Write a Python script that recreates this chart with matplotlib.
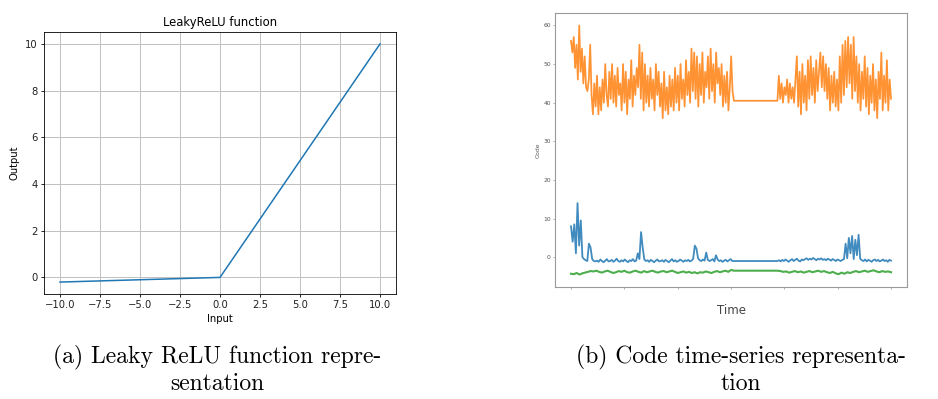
import numpy as np
import matplotlib
matplotlib.use("Agg")
import matplotlib.pyplot as plt


# Leaky ReLU curve (slope 0.02 below zero)
relu_input = [-10.0, 0.0, 10.0]
relu_output = [-0.2, 0.0, 10.0]

# Code time series: two recorded segments with a gap in between
seg1_span = (0, 509)
seg2_span = (645, 1000)

code_orange_seg1 = [
    56, 53, 57, 49, 55, 46, 60, 48, 54, 45, 52, 44,
    43, 46, 55, 42,
    37, 45, 39, 47, 37, 44, 38, 46, 40,
    50, 42,
    39, 48, 41, 50, 40, 47, 39, 49, 42, 45,
    38, 50, 40, 48, 37, 46, 41, 51, 39, 47, 42, 49,
    44, 55, 41, 53,
    38, 50, 40, 47, 39, 49, 41, 46, 38, 50, 42, 48, 39,
    45, 36, 48, 38, 44, 37, 47, 39, 46, 38,
    49, 40, 47, 38, 50, 41, 46, 39, 51, 42, 48, 40,
    54, 43, 53, 41, 52,
    39, 50, 42, 53, 40, 48, 44,
    52, 41, 54, 43, 50, 40, 53, 45, 49, 42,
    50, 39, 47, 40, 48, 38, 44,
    52, 43, 40.5,
]
code_orange_seg2 = [
    40.5, 47, 41, 45, 40, 44, 42,
    46, 40, 45, 41, 44, 40, 46,
    52, 39, 48, 37, 50, 40, 47, 38, 51, 41,
    52, 42, 49, 40, 51, 43, 48,
    53, 44, 52, 43, 50,
    41, 49, 38, 47, 40, 48, 39,
    46, 38, 52, 40, 55, 42, 56, 44, 57, 45,
    55, 41, 57, 43, 52,
    40, 50, 38, 48, 41, 52, 39,
    49, 37, 47, 40, 50, 38, 46,
    36, 48, 41, 53, 38,
    47, 40, 51, 38, 46, 41,
]

code_blue_seg1 = [
    8, 4, 8.5, 1, 14, 3, 9.5, 0, -0.5,
    -0.8, -1, 3.5, 2.5, -0.5, -1,
    -1.1, -0.9, -1.2, -0.6, -1.0, -1.3, -0.9, -0.5, -1.1, -1.0, -0.7, -1.2, -0.9,
    -0.4, -1.0, -1.2, -0.8, -1.1, -0.6, -1.0, -1.3, -0.8, -1.0, -0.5, -1.1, -0.9, 1.0,
    -0.5, 6.5, 2.5, -0.6,
    -1.0, -0.8, -1.2, -0.7, -1.0, -1.3, -0.9, -0.6, -1.1, -1.0, -0.8, -1.2, -0.7, -1.0, -1.3,
    -0.9, -0.5, -1.1, -0.8, -1.2, -1.0, -0.6, -0.9, -1.2, -0.8, -1.0, -0.7, -1.1, -0.9, -0.4,
    3.0, 2.2, -0.3, -0.8,
    -1.0, -0.6, -0.9, 1.2, -0.7, -1.0, -0.8, -0.5, -1.1, 0.5, -0.6, -1.0, -0.8, -1.2, -0.9,
    -0.7, -1.1, -0.8, -0.5, -1.0, -1.0,
]
code_blue_seg2 = [
    -1.0, -0.8, -1.1, -0.7, -1.0, -0.6, -0.9, -1.2, -0.8, -0.5, -1.0, -0.7, -0.4, -0.9,
    -1.1, -0.6, -0.8, -0.5, -0.3, -0.7, -0.4, -0.6, -0.2, -0.5, -0.8, -0.4, -0.6, -0.3,
    -0.7, -0.5, -0.8, -0.4, -0.6, -0.9, -0.5, -0.7, -1.0, -0.6, -0.8, -1.0, -0.7, -0.5,
    3.5, -0.3, 5.0, 1.0, 5.5, -0.5, 4.5, 0.5, 5.8, -0.4,
    -0.8, -1.0, -0.6, -1.1, -0.7, -0.9, -1.2, -0.8, -0.6, -1.0, -0.7, -1.1, -0.9, -0.6,
    -1.0, -0.8, -1.2, -0.7, -0.9,
]

code_green_seg1 = [
    -4.3, -4.4, -4.1, -4.5, -4.2, -4.0, -3.8, -3.6, -3.7, -3.5, -3.8, -4.0, -3.7, -3.5,
    -3.8, -4.1, -3.9, -3.6, -3.8, -3.5, -3.9, -4.0, -3.7, -3.5, -3.8, -4.0, -3.6, -3.9,
    -3.7, -3.5, -3.8, -4.0, -3.7, -3.6, -3.9, -3.7, -3.5, -3.8, -4.1, -3.9, -3.7, -4.0,
    -3.8, -4.1, -3.9, -4.2, -3.9, -4.0, -3.7, -3.9, -4.1, -3.8, -3.6, -3.9, -3.7, -3.5,
    -3.8, -3.3, -3.5,
]
code_green_seg2 = [
    -3.5, -3.6, -3.8, -3.7, -4.0, -3.8, -3.6, -3.9, -3.7, -4.0, -3.8, -3.6, -3.9, -3.7,
    -3.5, -3.8, -3.6, -3.9, -4.1, -3.8, -4.2, -4.4, -4.0, -4.3, -3.9, -4.1, -3.8, -3.6,
    -3.9, -3.7, -3.5, -3.8, -3.6, -3.4, -3.7, -3.9, -3.6, -3.8, -3.7, -3.9,
]

time_ticks = np.linspace(seg1_span[0], seg2_span[1], 7)


def series(seg1, seg2):
    t = np.concatenate([
        np.linspace(*seg1_span, len(seg1)),
        np.linspace(*seg2_span, len(seg2)),
    ])
    return t, np.array(seg1 + seg2, dtype=float)


fig = plt.figure(figsize=(9.38, 3.99), dpi=100)

# (a) Leaky ReLU
ax1 = fig.add_axes([0.0469, 0.2632, 0.3753, 0.6566])
ax1.plot(relu_input, relu_output, color="tab:blue", lw=1.1)
ax1.set_title("LeakyReLU function", fontsize=8.4, pad=4)
ax1.set_xlabel("Input", fontsize=7.2, labelpad=2.5)
ax1.set_ylabel("Output", fontsize=7.2, labelpad=4)
ax1.tick_params(labelsize=7.2, length=2.5, width=0.6, pad=2, labelcolor="#222222")
ax1.grid(True, color="#c0c0c0", lw=0.7)
for s in ax1.spines.values():
    s.set_linewidth(0.6)

# (b) Code time series
ax2 = fig.add_axes([0.5917, 0.2807, 0.3753, 0.6867])
for seg1, seg2, col, lw in [
    (code_orange_seg1, code_orange_seg2, "#ff7f0e", 1.25),
    (code_blue_seg1, code_blue_seg2, "#1f77b4", 1.3),
    (code_green_seg1, code_green_seg2, "#2ca02c", 1.5),
]:
    t, v = series(seg1, seg2)
    ax2.plot(t, v, color=col, lw=lw, alpha=0.85)
ax2.set_xticks(time_ticks)
ax2.set_xticklabels([])
ax2.set_yticks([0, 10, 20, 30, 40, 50, 60])
ax2.tick_params(labelsize=4.3, length=1.5, width=0.4, pad=1.5,
                colors="#777777", labelcolor="#555555")
ax2.set_ylabel("Code", fontsize=4.3, color="#555555", labelpad=2)
ax2.set_xlabel("Time", fontsize=8.5, color="#444444", labelpad=9)
for s in ax2.spines.values():
    s.set_linewidth(0.8)
    s.set_color("#9a9a9a")

# captions
cap = dict(family="cmr10", fontsize=17, ha="center", va="center", linespacing=1.2)
fig.text(217 / 938, 1 - 370 / 399, "(a) Leaky ReLU function repre-\nsentation", **cap)
fig.text(741 / 938, 1 - 370 / 399, "(b) Code time-series representa-\ntion", **cap)

fig.savefig("out.png", dpi=100)
